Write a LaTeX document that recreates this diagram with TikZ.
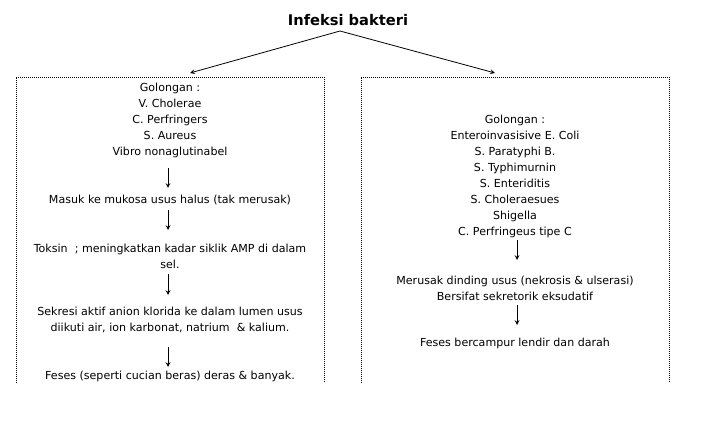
\documentclass[tikz,border=0pt]{standalone}
\usepackage{fontspec}
\setmainfont{DejaVu Sans}
\tikzset{>=stealth,
  txt/.style={align=center, font=\fontsize{8.3}{12}\selectfont, inner sep=1pt},
  frame/.style={densely dotted, line width=0.5pt},
  down/.style={->, line width=0.6pt}}
\begin{document}
\begin{tikzpicture}[x=0.75pt, y=-0.75pt]
    \useasboundingbox (0,0) rectangle (725,427);
    \node[font=\fontsize{11}{13}\selectfont\bfseries] (title) at (348,20) {Infeksi bakteri};
    \coordinate (top) at (340,31);
    \coordinate (L) at (190,73);
    \coordinate (R) at (495,73);
    \draw[down] (top) -- (L);
    \draw[down] (top) -- (R);
    % left frame
    \draw[frame] (16,383) -- (16,77) -- (324,77) -- (324,383);
    \node[txt] (g1) at (170,120) {Golongan :\\V. Cholerae\\C. Perfringers\\S. Aureus\\Vibro nonaglutinabel};
    \node[txt] (m1) at (170,200) {Masuk ke mukosa usus halus (tak merusak)};
    \node[txt] (t1) at (170,256) {Toksin \ ; meningkatkan kadar siklik AMP di dalam\\sel.};
    \node[txt] (s1) at (170,320) {Sekresi aktif anion klorida ke dalam lumen usus\\diikuti air, ion karbonat, natrium \ \& kalium.};
    \node[txt] (f1) at (170,376) {Feses (seperti cucian beras) deras \& banyak.};
    \draw[down] (168,168) -- (168,188);
    \draw[down] (168,210) -- (168,230);
    \draw[down] (168,274) -- (168,295);
    \draw[down] (168,347) -- (168,367);
    % right frame
    \draw[frame] (361,383) -- (361,77) -- (669,77) -- (669,383);
    \node[txt] (g2) at (515,176) {Golongan :\\Enteroinvasisive E. Coli\\S. Paratyphi B.\\S. Typhimurnin\\S. Enteriditis\\S. Choleraesues\\Shigella\\C. Perfringeus tipe C};
    \node[txt] (m2) at (515,288) {Merusak dinding usus (nekrosis \& ulserasi)\\Bersifat sekretorik eksudatif};
    \node[txt] (f2) at (515,343) {Feses bercampur lendir dan darah};
    \draw[down] (517,240) -- (517,260);
    \draw[down] (517,305) -- (517,325);
\end{tikzpicture}
\end{document}
